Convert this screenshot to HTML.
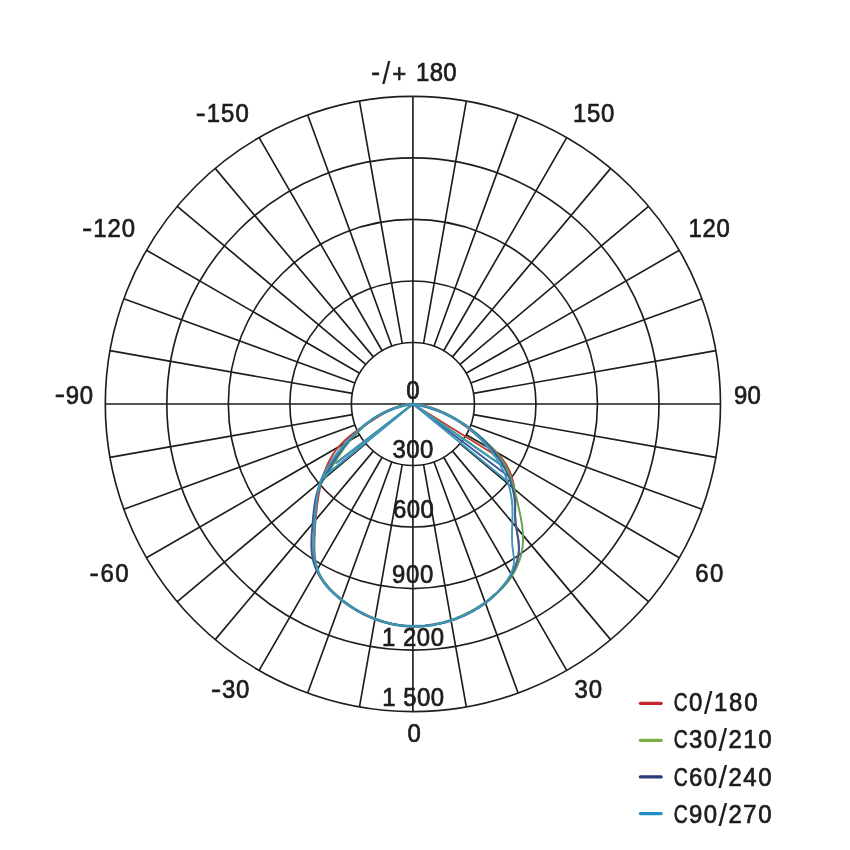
<!DOCTYPE html>
<html lang="en"><head><meta charset="utf-8"><title>Polar diagram</title>
<style>html,body{margin:0;padding:0;background:#fff}svg{display:block}text{font-family:"Liberation Sans",sans-serif;font-size:25.2px;fill:#1d1d1b;stroke:#1d1d1b;stroke-width:.7px}</style></head><body>
<svg width="850" height="850" viewBox="0 0 850 850">
<rect width="850" height="850" fill="#fff"/>
<g fill="none" stroke="#1d1d1b" stroke-width="1.65">
<circle cx="412.9" cy="404.0" r="61.52"/>
<circle cx="412.9" cy="404.0" r="123.04"/>
<circle cx="412.9" cy="404.0" r="184.56"/>
<circle cx="412.9" cy="404.0" r="246.08"/>
<circle cx="412.9" cy="404.0" r="307.60"/>
<path d="M412.90,404.00L412.90,96.40M423.58,343.41L466.31,101.07M433.94,346.19L518.11,114.95M443.66,350.72L566.70,137.61M452.44,356.87L610.62,168.36M460.03,364.46L648.54,206.28M466.18,373.24L679.29,250.20M470.71,382.96L701.95,298.79M473.49,393.32L715.83,350.59M412.90,404.00L720.50,404.00M473.49,414.68L715.83,457.41M470.71,425.04L701.95,509.21M466.18,434.76L679.29,557.80M460.03,443.54L648.54,601.72M452.44,451.13L610.62,639.64M443.66,457.28L566.70,670.39M433.94,461.81L518.11,693.05M423.58,464.59L466.31,706.93M412.90,404.00L412.90,711.60M402.22,464.59L359.49,706.93M391.86,461.81L307.69,693.05M382.14,457.28L259.10,670.39M373.36,451.13L215.18,639.64M365.77,443.54L177.26,601.72M359.62,434.76L146.51,557.80M355.09,425.04L123.85,509.21M352.31,414.68L109.97,457.41M412.90,404.00L105.30,404.00M352.31,393.32L109.97,350.59M355.09,382.96L123.85,298.79M359.62,373.24L146.51,250.20M365.77,364.46L177.26,206.28M373.36,356.87L215.18,168.36M382.14,350.72L259.10,137.61M391.86,346.19L307.69,114.95M402.22,343.41L359.49,101.07"/>
</g>
<g fill="none" stroke-width="1.9" stroke-linejoin="round" stroke-linecap="round">
<path d="M412.9,404.0 L410.5,404.3 L408.0,404.7 L405.6,405.2 L403.3,405.7 L401.0,406.3 L398.6,407.0 L396.4,407.7 L394.1,408.5 L391.9,409.3 L389.7,410.2 L387.5,411.1 L385.4,412.1 L383.3,413.1 L381.2,414.2 L379.2,415.3 L377.1,416.5 L375.1,417.7 L373.1,419.0 L371.2,420.3 L369.3,421.7 L367.3,423.1 L365.5,424.5 L363.6,426.0 L361.8,427.5 L360.0,429.0 L358.2,430.6 L356.4,432.2 L354.7,433.9 L353.0,435.5 L351.3,437.2 L349.6,439.0 L348.0,440.7 L346.3,442.5 L344.7,444.3 L343.2,446.2 L341.6,448.0 L340.1,449.9 L338.6,451.8 L337.1,453.7 L335.6,455.6 L334.2,457.5 L332.8,459.5 L331.4,461.5 L330.1,463.5 L328.8,465.5 L327.5,467.5 L326.4,469.6 L325.2,471.7 L324.2,473.8 L323.2,475.9 L322.2,478.1 L321.3,480.2 L320.5,482.4 L319.8,484.7 L319.2,486.9 L318.6,489.1 L318.1,491.4 L317.6,493.7 L317.2,496.0 L316.9,498.4 L316.6,500.7 L316.3,503.1 L316.0,505.4 L315.8,507.8 L315.6,510.2 L315.5,512.6 L315.3,515.0 L315.1,517.4 L315.0,519.9 L314.8,522.3 L314.7,524.7 L314.5,527.1 L314.3,529.6 L314.2,532.0 L314.0,534.4 L313.9,536.9 L313.8,539.3 L313.7,541.7 L313.7,544.1 L313.7,546.5 L313.7,548.9 L313.8,551.2 L314.0,553.6 L314.3,555.9 L314.6,558.2 L314.9,560.5 L315.4,562.8 L316.0,565.1 L316.6,567.3 L317.4,569.5 L318.2,571.7 L319.1,573.8 L320.1,575.9 L321.2,578.0 L322.4,580.0 L323.7,581.9 L325.1,583.9 L326.6,585.7 L328.2,587.5 L329.8,589.3 L331.6,591.0 L333.3,592.7 L335.1,594.4 L336.9,596.0 L338.8,597.5 L340.6,599.1 L342.5,600.6 L344.4,602.0 L346.4,603.5 L348.3,604.8 L350.3,606.2 L352.3,607.5 L354.3,608.8 L356.4,610.0 L358.4,611.2 L360.5,612.3 L362.6,613.4 L364.7,614.5 L366.9,615.5 L369.0,616.5 L371.2,617.4 L373.4,618.3 L375.6,619.1 L377.8,619.9 L380.0,620.7 L382.2,621.4 L384.5,622.1 L386.8,622.7 L389.0,623.3 L391.3,623.8 L393.6,624.3 L396.0,624.7 L398.3,625.1 L400.6,625.4 L402.9,625.7 L405.3,625.9 L407.7,626.1 L410.0,626.2 L412.4,626.3 L414.8,626.3 L417.1,626.3 L419.5,626.2 L421.9,626.1 L424.3,625.9 L426.7,625.6 L429.1,625.4 L431.5,625.0 L433.8,624.7 L436.2,624.2 L438.6,623.7 L441.0,623.2 L443.3,622.7 L445.6,622.0 L448.0,621.4 L450.3,620.7 L452.6,619.9 L454.9,619.1 L457.2,618.2 L459.4,617.4 L461.6,616.4 L463.9,615.4 L466.0,614.4 L468.2,613.3 L470.4,612.2 L472.5,611.1 L474.6,609.9 L476.6,608.6 L478.7,607.4 L480.7,606.0 L482.7,604.7 L484.6,603.3 L486.5,601.8 L488.4,600.3 L490.2,598.8 L492.0,597.2 L493.8,595.6 L495.5,594.0M495.1,456.3 L493.8,454.4 L492.4,452.4 L491.0,450.5 L489.5,448.7 L488.0,446.8 L486.5,445.0 L484.9,443.2 L483.3,441.5 L481.7,439.7 L480.0,438.0 L478.3,436.4 L476.5,434.7 L474.8,433.1 L473.0,431.6 L471.1,430.0 L469.2,428.5 L467.3,427.1 L465.4,425.6 L463.5,424.3 L461.5,422.9 L459.5,421.6 L457.4,420.3 L455.4,419.1 L453.3,417.9 L451.2,416.7 L449.1,415.6 L446.9,414.6 L444.8,413.5 L442.6,412.5 L440.4,411.6 L438.2,410.7 L435.9,409.9 L433.7,409.1 L431.4,408.3 L429.2,407.6 L426.9,406.9 L424.6,406.3 L422.2,405.8 L419.9,405.2 L417.6,404.8 L415.2,404.4 L412.9,404.0" stroke="#4a9bb5" stroke-width="2.9" stroke-linecap="butt"/>
<path d="M412.9,404.0 L410.3,404.2 L407.9,404.5 L405.4,404.9 L403.1,405.4 L400.8,405.9 L398.6,406.6 L396.4,407.3 L394.2,408.1 L392.1,409.0 L390.1,410.0 L388.0,411.0 L386.0,412.0 L384.0,413.1 L382.1,414.2 L380.1,415.4 L378.2,416.6 L376.2,417.9 L374.2,419.1 L372.3,420.4 L370.3,421.7 L368.3,423.0 L366.3,424.3 L364.3,425.7 L362.3,427.0 L360.3,428.4 L358.3,429.8 L356.3,431.2 L354.3,432.6 L352.4,434.1 L350.5,435.6 L348.6,437.1 L346.8,438.7 L345.0,440.3 L343.3,441.9 L341.6,443.6 L340.0,445.3 L338.5,447.0 L337.0,448.8 L335.6,450.7 L334.2,452.5 L332.9,454.4 L331.7,456.4 L330.6,458.4 L329.5,460.4 L328.5,462.4 L327.5,464.5 L326.6,466.6 L325.7,468.8 L324.9,470.9 L324.1,473.1 L323.4,475.3 L322.7,477.6 L322.0,479.8 L321.4,482.1 L320.9,484.4 L320.3,486.7 L319.8,489.0 L319.4,491.3 L318.9,493.6 L318.5,496.0 L318.1,498.3 L317.8,500.7 L317.4,503.0 L317.1,505.4 L316.8,507.7 L316.5,510.1 L316.3,512.4 L316.0,514.8 L315.8,517.1 L315.5,519.4 L315.3,521.8 L315.2,524.1 L315.0,526.5 L314.8,528.8 L314.7,531.2 L314.6,533.5 L314.5,535.8 L314.4,538.2 L314.4,540.5 L314.3,542.9 L314.3,545.3 L314.3,547.6 L314.4,550.0 L314.4,552.4 L314.5,554.7 L314.6,557.1 L314.8,559.4 L315.1,561.8 L315.5,564.1 L315.9,566.4 L316.5,568.6 L317.2,570.8 L318.0,572.9 L319.1,575.0 L320.2,577.0 L321.5,579.0 L322.9,580.9 L324.4,582.7 L325.9,584.5 L327.5,586.3 L329.1,588.1 L330.7,589.8 L332.4,591.5 L334.1,593.2 L335.8,594.8 L337.6,596.4 L339.4,597.9 L341.2,599.4 L343.0,600.9 L344.9,602.4 L346.8,603.8 L348.7,605.1 L350.6,606.4 L352.6,607.7 L354.6,609.0 L356.6,610.2 L358.6,611.4 L360.7,612.5 L362.8,613.6 L364.8,614.6 L367.0,615.6 L369.1,616.6 L371.2,617.5 L373.4,618.4 L375.6,619.2 L377.8,620.0 L380.0,620.7 L382.2,621.4 L384.4,622.1 L386.7,622.7 L389.0,623.3 L391.2,623.8 L393.5,624.2 L395.8,624.7 L398.1,625.0 L400.4,625.4 L402.7,625.6 L405.1,625.9 L407.4,626.0 L409.8,626.2 L412.1,626.3 L414.5,626.3 L416.8,626.3 L419.2,626.2 L421.5,626.1 L423.9,625.9 L426.2,625.7 L428.6,625.4 L430.9,625.1 L433.3,624.7 L435.6,624.3 L438.0,623.9 L440.3,623.4 L442.6,622.8 L444.9,622.2 L447.2,621.6 L449.5,620.9 L451.8,620.2 L454.1,619.4 L456.3,618.6 L458.5,617.7 L460.7,616.8 L462.9,615.8 L465.1,614.9 L467.2,613.8 L469.4,612.7 L471.5,611.6 L473.5,610.5 L475.6,609.3 L477.6,608.0 L479.6,606.8 L481.6,605.5 L483.5,604.1 L485.4,602.7 L487.3,601.3 L489.2,599.8 L491.0,598.3 L492.7,596.8 L494.5,595.2 L496.2,593.6 L497.8,591.9 L499.4,590.2 L501.0,588.5 L502.5,586.7 L504.0,584.9 L505.5,583.1 L506.9,581.3 L508.2,579.4 L509.5,577.4 L510.7,575.5 L511.8,573.5 L512.9,571.5 L513.9,569.4 L514.8,567.3 L515.7,565.2 L516.4,563.0 L517.1,560.8 L517.6,558.6 L518.1,556.4 L518.4,554.1 L518.7,551.8 L518.8,549.5 L518.8,547.1 L518.7,544.7 L518.5,542.3 L518.2,539.9 L517.8,537.4 L517.4,535.0 L517.0,532.5 L516.6,530.1 L516.2,527.7 L515.9,525.2 L515.6,522.8 L515.3,520.5 L515.2,518.1 L515.1,515.8 L515.1,513.5 L515.2,511.3 L515.3,509.0 L515.3,506.7 L515.4,504.4 L515.4,502.1 L515.3,499.7 L515.2,497.3 L515.1,495.0 L514.8,492.6 L514.6,490.2 L514.2,487.8 L513.8,485.5 L513.4,483.1 L512.8,480.8 L512.2,478.5 L511.5,476.3 L510.7,474.0 L509.9,471.9 L508.9,469.7 L507.9,467.6 L506.8,465.6 L505.6,463.6 L504.3,461.7 L503.0,459.8 L501.6,458.0 L500.1,456.2 L498.6,454.4 L497.0,452.7 L495.4,451.0 L493.7,449.4 L492.0,447.7 L490.3,446.1 L488.5,444.5 L486.7,443.0 L484.9,441.4 L483.1,439.9 L481.2,438.4 L479.4,436.8 L477.5,435.3 L475.7,433.8 L473.8,432.4 L471.9,430.9 L470.0,429.5 L468.1,428.0 L466.2,426.6 L464.3,425.2 L462.4,423.9 L460.4,422.5 L458.5,421.2 L456.5,420.0 L454.5,418.7 L452.5,417.5 L450.5,416.4 L448.5,415.2 L446.4,414.1 L444.4,413.1 L442.3,412.1 L440.2,411.1 L438.0,410.2 L435.9,409.4 L433.7,408.6 L431.5,407.8 L429.3,407.1 L427.0,406.5 L424.7,405.9 L422.4,405.4 L420.1,405.0 L417.7,404.6 L415.3,404.2 L412.9,404.0M412.9,404.0L336.4,462.8M412.9,404.0L503.0,459.8" stroke="#c0392f"/>
<path d="M412.9,404.0 L410.4,404.3 L408.0,404.6 L405.6,405.0 L403.2,405.5 L400.9,406.0 L398.6,406.7 L396.3,407.3 L394.1,408.1 L391.9,408.9 L389.7,409.7 L387.5,410.7 L385.4,411.7 L383.4,412.7 L381.3,413.8 L379.3,414.9 L377.3,416.1 L375.4,417.4 L373.5,418.7 L371.6,420.0 L369.7,421.4 L367.9,422.8 L366.1,424.3 L364.3,425.8 L362.6,427.4 L360.9,429.0 L359.2,430.6 L357.5,432.3 L355.9,434.0 L354.3,435.7 L352.7,437.4 L351.2,439.2 L349.7,441.0 L348.2,442.9 L346.8,444.7 L345.3,446.6 L343.9,448.5 L342.6,450.5 L341.2,452.4 L339.9,454.4 L338.6,456.3 L337.3,458.3 L336.0,460.3 L334.8,462.3 L333.5,464.3 L332.3,466.3 L331.0,468.3 L329.8,470.3 L328.5,472.3 L327.2,474.3 L326.0,476.3 L324.7,478.2 L323.4,480.2 L322.2,482.1 L321.1,484.1 L320.1,486.2 L319.2,488.2 L318.5,490.3 L317.8,492.5 L317.3,494.7 L316.8,496.9 L316.5,499.1 L316.2,501.4 L315.9,503.7 L315.7,506.0 L315.6,508.3 L315.4,510.7 L315.3,513.0 L315.2,515.4 L315.1,517.8 L315.0,520.2 L314.9,522.7 L314.8,525.1 L314.6,527.5 L314.4,530.0 L314.2,532.4 L314.1,534.8 L313.9,537.3 L313.8,539.7 L313.6,542.1 L313.6,544.5 L313.5,546.9 L313.6,549.3 L313.6,551.7 L313.8,554.0 L314.0,556.3 L314.3,558.6 L314.7,560.9 L315.2,563.1 L315.8,565.3 L316.5,567.4 L317.3,569.6 L318.3,571.6 L319.2,573.7 L320.3,575.7 L321.5,577.7 L322.7,579.6 L324.0,581.5 L325.4,583.4 L326.9,585.3 L328.4,587.1 L329.9,588.8 L331.5,590.6 L333.1,592.3 L334.8,593.9 L336.5,595.6 L338.3,597.1 L340.1,598.7 L341.9,600.2 L343.8,601.7 L345.6,603.1 L347.5,604.5 L349.5,605.9 L351.5,607.2 L353.4,608.5 L355.5,609.7 L357.5,610.9 L359.6,612.1 L361.7,613.2 L363.8,614.3 L365.9,615.3 L368.1,616.3 L370.2,617.2 L372.4,618.1 L374.6,619.0 L376.8,619.8 L379.1,620.6 L381.3,621.3 L383.6,622.0 L385.9,622.6 L388.2,623.2 L390.5,623.7 L392.8,624.2 L395.1,624.7 L397.4,625.1 L399.7,625.4 L402.1,625.7 L404.4,626.0 L406.7,626.2 L409.1,626.3 L411.4,626.4 L413.8,626.5 L416.1,626.5 L418.4,626.4 L420.8,626.3 L423.1,626.2 L425.5,626.0 L427.8,625.7 L430.1,625.4 L432.4,625.0 L434.7,624.6 L437.0,624.1 L439.3,623.6 L441.6,623.0 L443.8,622.4 L446.1,621.7 L448.3,621.0 L450.6,620.2 L452.8,619.4 L455.0,618.6 L457.2,617.7 L459.4,616.8 L461.5,615.8 L463.7,614.8 L465.8,613.8 L467.9,612.7 L470.0,611.6 L472.1,610.4 L474.2,609.3 L476.3,608.1 L478.3,606.8 L480.3,605.6 L482.3,604.3 L484.3,603.0 L486.3,601.7 L488.2,600.3 L490.1,598.9 L492.0,597.5 L493.8,596.0 L495.6,594.5 L497.4,592.9 L499.1,591.4 L500.8,589.7 L502.4,588.1 L504.0,586.4 L505.5,584.6 L507.0,582.8 L508.5,581.0 L509.9,579.1 L511.2,577.2 L512.4,575.2 L513.6,573.2 L514.8,571.1 L515.9,569.0 L516.9,566.8 L517.8,564.6 L518.7,562.4 L519.5,560.1 L520.2,557.9 L520.8,555.6 L521.4,553.3 L521.9,550.9 L522.3,548.6 L522.6,546.3 L522.8,544.0 L523.0,541.7 L523.0,539.3 L523.0,537.0 L522.9,534.7 L522.8,532.4 L522.6,530.1 L522.4,527.7 L522.1,525.4 L521.7,523.1 L521.3,520.8 L520.9,518.5 L520.5,516.1 L520.0,513.8 L519.5,511.5 L519.0,509.2 L518.5,506.8 L518.0,504.5 L517.5,502.2 L516.9,499.8 L516.4,497.5 L515.8,495.2 L515.3,492.9 L514.7,490.5 L514.0,488.2 L513.4,486.0 L512.7,483.7 L512.0,481.4 L511.3,479.2 L510.5,477.0 L509.6,474.8 L508.7,472.7 L507.8,470.5 L506.8,468.5 L505.7,466.4 L504.6,464.4 L503.4,462.4 L502.1,460.4 L500.8,458.5 L499.4,456.6 L498.0,454.8 L496.5,452.9 L495.0,451.2 L493.5,449.4 L491.9,447.6 L490.3,445.9 L488.6,444.3 L486.9,442.6 L485.2,441.0 L483.4,439.4 L481.6,437.8 L479.8,436.2 L478.0,434.7 L476.2,433.2 L474.3,431.7 L472.5,430.2 L470.6,428.7 L468.7,427.3 L466.8,425.9 L464.8,424.6 L462.9,423.3 L460.9,422.0 L458.9,420.7 L456.9,419.5 L454.8,418.3 L452.8,417.2 L450.7,416.0 L448.6,415.0 L446.5,413.9 L444.4,412.9 L442.3,412.0 L440.1,411.1 L438.0,410.2 L435.8,409.4 L433.6,408.6 L431.3,407.9 L429.1,407.2 L426.8,406.6 L424.6,406.0 L422.3,405.5 L419.9,405.1 L417.6,404.7 L415.3,404.3 L412.9,404.0M412.9,404.0L336.4,462.8M412.9,404.0L506.8,468.5" stroke="#5fa052"/>
<path d="M412.9,404.0 L410.4,404.3 L408.0,404.7 L405.6,405.1 L403.2,405.6 L400.9,406.2 L398.6,406.9 L396.3,407.6 L394.0,408.3 L391.8,409.2 L389.6,410.1 L387.4,411.0 L385.2,412.0 L383.1,413.1 L381.0,414.2 L378.9,415.3 L376.9,416.5 L374.9,417.8 L372.9,419.1 L370.9,420.5 L369.0,421.9 L367.1,423.3 L365.2,424.8 L363.3,426.3 L361.5,427.9 L359.8,429.5 L358.0,431.1 L356.3,432.8 L354.6,434.5 L352.9,436.2 L351.3,438.0 L349.7,439.8 L348.1,441.6 L346.6,443.5 L345.1,445.4 L343.6,447.2 L342.1,449.2 L340.7,451.1 L339.3,453.1 L338.0,455.0 L336.6,457.0 L335.3,459.0 L334.0,461.1 L332.8,463.1 L331.5,465.1 L330.3,467.2 L329.0,469.2 L327.8,471.3 L326.5,473.4 L325.3,475.4 L324.0,477.5 L322.8,479.6 L321.6,481.7 L320.5,483.8 L319.5,485.9 L318.6,488.1 L317.8,490.3 L317.1,492.5 L316.5,494.8 L315.9,497.0 L315.4,499.3 L315.0,501.6 L314.6,503.9 L314.3,506.3 L314.0,508.7 L313.7,511.0 L313.5,513.4 L313.2,515.8 L313.0,518.3 L312.8,520.7 L312.6,523.1 L312.4,525.6 L312.2,528.0 L312.0,530.5 L311.8,532.9 L311.6,535.4 L311.5,537.8 L311.4,540.3 L311.3,542.7 L311.3,545.1 L311.4,547.5 L311.5,549.9 L311.7,552.3 L312.0,554.6 L312.3,557.0 L312.8,559.3 L313.3,561.5 L313.9,563.8 L314.7,566.0 L315.6,568.1 L316.5,570.3 L317.6,572.4 L318.7,574.4 L320.0,576.5 L321.3,578.4 L322.7,580.4 L324.1,582.3 L325.6,584.2 L327.2,586.1 L328.8,587.9 L330.5,589.6 L332.2,591.4 L333.9,593.1 L335.7,594.7 L337.5,596.4 L339.4,598.0 L341.2,599.5 L343.1,601.0 L345.0,602.5 L347.0,603.9 L348.9,605.3 L350.9,606.6 L352.9,608.0 L355.0,609.2 L357.0,610.4 L359.1,611.6 L361.2,612.8 L363.3,613.9 L365.4,614.9 L367.6,615.9 L369.8,616.9 L372.0,617.8 L374.2,618.7 L376.4,619.5 L378.6,620.3 L380.9,621.0 L383.2,621.7 L385.4,622.4 L387.7,622.9 L390.0,623.5 L392.4,624.0 L394.7,624.4 L397.0,624.8 L399.4,625.2 L401.7,625.5 L404.1,625.7 L406.5,625.9 L408.8,626.1 L411.2,626.2 L413.6,626.2 L416.0,626.2 L418.4,626.2 L420.8,626.1 L423.2,625.9 L425.6,625.7 L428.0,625.4 L430.4,625.1 L432.8,624.8 L435.2,624.4 L437.6,623.9 L439.9,623.4 L442.3,622.9 L444.6,622.3 L447.0,621.6 L449.3,620.9 L451.6,620.2 L453.9,619.4 L456.2,618.6 L458.5,617.7 L460.7,616.8 L463.0,615.8 L465.2,614.8 L467.4,613.8 L469.5,612.7 L471.7,611.5 L473.8,610.3 L475.9,609.1 L478.0,607.9 L480.0,606.5 L482.0,605.2 L484.0,603.8 L485.9,602.4 L487.8,600.9 L489.7,599.4 L491.5,597.9 L493.3,596.3 L495.1,594.6 L496.8,593.0 L498.5,591.3 L500.1,589.5 L501.7,587.8 L503.2,585.9 L504.7,584.1 L506.2,582.2 L507.6,580.3 L508.9,578.3 L510.2,576.3 L511.4,574.3 L512.5,572.2 L513.6,570.2 L514.6,568.0 L515.5,565.9 L516.3,563.7 L517.0,561.5 L517.6,559.3 L518.1,557.0 L518.5,554.7 L518.8,552.4 L519.0,550.0 L519.0,547.7 L518.9,545.3 L518.7,542.9 L518.5,540.4 L518.1,538.0 L517.7,535.5 L517.3,533.1 L516.9,530.6 L516.5,528.1 L516.1,525.6 L515.7,523.1 L515.5,520.7 L515.3,518.2 L515.1,515.7 L515.1,513.3 L515.1,510.9 L515.0,508.4 L515.0,506.0 L514.8,503.6 L514.7,501.3 L514.4,498.9 L514.1,496.5 L513.7,494.2 L513.3,491.9 L512.7,489.6 L512.2,487.3 L511.5,485.1 L510.8,482.8 L510.1,480.6 L509.3,478.4 L508.4,476.2 L507.5,474.0 L506.5,471.9 L505.5,469.8 L504.4,467.7 L503.3,465.6 L502.1,463.5 L500.9,461.5 L499.6,459.5 L498.3,457.5 L496.9,455.6 L495.5,453.6 L494.0,451.7 L492.5,449.9 L491.0,448.0 L489.4,446.2 L487.8,444.4 L486.1,442.7 L484.4,440.9 L482.7,439.2 L480.9,437.6 L479.1,435.9 L477.3,434.3 L475.4,432.8 L473.5,431.2 L471.6,429.7 L469.7,428.3 L467.7,426.8 L465.7,425.4 L463.7,424.1 L461.6,422.7 L459.6,421.5 L457.5,420.2 L455.4,419.0 L453.2,417.8 L451.1,416.7 L448.9,415.6 L446.7,414.6 L444.5,413.5 L442.3,412.6 L440.1,411.6 L437.9,410.8 L435.6,409.9 L433.4,409.1 L431.1,408.4 L428.9,407.7 L426.6,407.0 L424.3,406.4 L422.0,405.8 L419.7,405.3 L417.5,404.8 L415.2,404.4 L412.9,404.0M412.9,404.0L324,476.8M412.9,404.0L508.4,476.2" stroke="#3a5a9a"/>
<path d="M412.9,404.0 L410.5,404.3 L408.0,404.7 L405.6,405.2 L403.3,405.7 L401.0,406.3 L398.6,407.0 L396.4,407.7 L394.1,408.5 L391.9,409.3 L389.7,410.2 L387.5,411.1 L385.4,412.1 L383.3,413.1 L381.2,414.2 L379.2,415.3 L377.1,416.5 L375.1,417.7 L373.1,419.0 L371.2,420.3 L369.3,421.7 L367.3,423.1 L365.5,424.5 L363.6,426.0 L361.8,427.5 L360.0,429.0 L358.2,430.6 L356.4,432.2 L354.7,433.9 L353.0,435.5 L351.3,437.2 L349.6,439.0 L348.0,440.7 L346.3,442.5 L344.7,444.3 L343.2,446.2 L341.6,448.0 L340.1,449.9 L338.6,451.8 L337.1,453.7 L335.6,455.6 L334.2,457.5 L332.8,459.5 L331.4,461.5 L330.1,463.5 L328.8,465.5 L327.5,467.5 L326.4,469.6 L325.2,471.7 L324.2,473.8 L323.2,475.9 L322.2,478.1 L321.3,480.2 L320.5,482.4 L319.8,484.7 L319.2,486.9 L318.6,489.1 L318.1,491.4 L317.6,493.7 L317.2,496.0 L316.9,498.4 L316.6,500.7 L316.3,503.1 L316.0,505.4 L315.8,507.8 L315.6,510.2 L315.5,512.6 L315.3,515.0 L315.1,517.4 L315.0,519.9 L314.8,522.3 L314.7,524.7 L314.5,527.1 L314.3,529.6 L314.2,532.0 L314.0,534.4 L313.9,536.9 L313.8,539.3 L313.7,541.7 L313.7,544.1 L313.7,546.5 L313.7,548.9 L313.8,551.2 L314.0,553.6 L314.3,555.9 L314.6,558.2 L314.9,560.5 L315.4,562.8 L316.0,565.1 L316.6,567.3 L317.4,569.5 L318.2,571.7 L319.1,573.8 L320.1,575.9 L321.2,578.0 L322.4,580.0 L323.7,581.9 L325.1,583.9 L326.6,585.7 L328.2,587.5 L329.8,589.3 L331.6,591.0 L333.3,592.7 L335.1,594.4 L336.9,596.0 L338.8,597.5 L340.6,599.1 L342.5,600.6 L344.4,602.0 L346.4,603.5 L348.3,604.8 L350.3,606.2 L352.3,607.5 L354.3,608.8 L356.4,610.0 L358.4,611.2 L360.5,612.3 L362.6,613.4 L364.7,614.5 L366.9,615.5 L369.0,616.5 L371.2,617.4 L373.4,618.3 L375.6,619.1 L377.8,619.9 L380.0,620.7 L382.2,621.4 L384.5,622.1 L386.8,622.7 L389.0,623.3 L391.3,623.8 L393.6,624.3 L396.0,624.7 L398.3,625.1 L400.6,625.4 L402.9,625.7 L405.3,625.9 L407.7,626.1 L410.0,626.2 L412.4,626.3 L414.8,626.3 L417.1,626.3 L419.5,626.2 L421.9,626.1 L424.3,625.9 L426.7,625.6 L429.1,625.4 L431.5,625.0 L433.8,624.7 L436.2,624.2 L438.6,623.7 L441.0,623.2 L443.3,622.7 L445.6,622.0 L448.0,621.4 L450.3,620.7 L452.6,619.9 L454.9,619.1 L457.2,618.2 L459.4,617.4 L461.6,616.4 L463.9,615.4 L466.0,614.4 L468.2,613.3 L470.4,612.2 L472.5,611.1 L474.6,609.9 L476.6,608.6 L478.7,607.4 L480.7,606.0 L482.7,604.7 L484.6,603.3 L486.5,601.8 L488.4,600.3 L490.2,598.8 L492.0,597.2 L493.8,595.6 L495.5,594.0 L497.2,592.3 L498.8,590.6 L500.4,588.9 L501.9,587.1 L503.4,585.2 L504.9,583.4 L506.3,581.5 L507.6,579.6 L508.8,577.6 L509.9,575.6 L511.0,573.5 L511.9,571.4 L512.6,569.3 L513.2,567.1 L513.7,564.9 L513.9,562.6 L514.0,560.3 L513.9,558.0 L513.6,555.6 L513.3,553.2 L513.0,550.8 L512.7,548.3 L512.4,545.9 L512.2,543.4 L512.1,541.0 L512.0,538.5 L512.0,536.1 L512.0,533.6 L512.0,531.2 L512.1,528.8 L512.2,526.3 L512.3,523.9 L512.3,521.4 L512.4,519.0 L512.5,516.6 L512.5,514.2 L512.5,511.8 L512.4,509.4 L512.4,507.0 L512.2,504.6 L512.0,502.3 L511.8,499.9 L511.4,497.6 L511.0,495.2 L510.6,492.9 L510.1,490.6 L509.6,488.3 L509.0,486.1 L508.3,483.8 L507.6,481.6 L506.8,479.4 L506.0,477.2 L505.1,475.0 L504.2,472.8 L503.2,470.7 L502.2,468.6 L501.1,466.5 L500.0,464.4 L498.9,462.3 L497.7,460.3 L496.4,458.3 L495.1,456.3 L493.8,454.4 L492.4,452.4 L491.0,450.5 L489.5,448.7 L488.0,446.8 L486.5,445.0 L484.9,443.2 L483.3,441.5 L481.7,439.7 L480.0,438.0 L478.3,436.4 L476.5,434.7 L474.8,433.1 L473.0,431.6 L471.1,430.0 L469.2,428.5 L467.3,427.1 L465.4,425.6 L463.5,424.3 L461.5,422.9 L459.5,421.6 L457.4,420.3 L455.4,419.1 L453.3,417.9 L451.2,416.7 L449.1,415.6 L446.9,414.6 L444.8,413.5 L442.6,412.5 L440.4,411.6 L438.2,410.7 L435.9,409.9 L433.7,409.1 L431.4,408.3 L429.2,407.6 L426.9,406.9 L424.6,406.3 L422.2,405.8 L419.9,405.2 L417.6,404.8 L415.2,404.4 L412.9,404.0M412.9,404.0L324,476.8M412.9,404.0L336.4,462.8M412.9,404.0L500.0,464.4M412.9,404.0L507.6,481.6" stroke="#3c97b8"/>
</g>
<text transform="translate(371.25 81.50) scale(0.95 1)" letter-spacing="2.19"><tspan textLength="11.6" lengthAdjust="spacingAndGlyphs" dy="-0.6">-</tspan><tspan font-size="31.5" stroke-width="0.1" textLength="10.6" lengthAdjust="spacingAndGlyphs" dy="3.3">/</tspan><tspan dy="-2.7">+</tspan> <tspan x="47.11" y="-0.75" letter-spacing="0.38">180</tspan></text>
<text transform="translate(195.75 122.25) scale(0.95 1)" letter-spacing="1.08"><tspan textLength="11.6" lengthAdjust="spacingAndGlyphs" dy="-0.6">-</tspan><tspan dy="0.6">150</tspan></text>
<text transform="translate(573.00 122.25) scale(0.95 1)" letter-spacing="0.72">150</text>
<text transform="translate(82.25 237.25) scale(0.95 1)" letter-spacing="0.92"><tspan textLength="11.6" lengthAdjust="spacingAndGlyphs" dy="-0.6">-</tspan><tspan dy="0.6">120</tspan></text>
<text transform="translate(688.50 237.25) scale(0.95 1)" letter-spacing="0.69">120</text>
<text transform="translate(54.75 403.75) scale(0.95 1)" letter-spacing="0.64"><tspan textLength="11.6" lengthAdjust="spacingAndGlyphs" dy="-0.6">-</tspan><tspan dy="0.6">90</tspan></text>
<text transform="translate(734.00 403.75) scale(0.95 1)" letter-spacing="0.33">90</text>
<text transform="translate(89.50 582.25) scale(0.95 1)" letter-spacing="1.56"><tspan textLength="11.6" lengthAdjust="spacingAndGlyphs" dy="-0.6">-</tspan><tspan dy="0.6">60</tspan></text>
<text transform="translate(695.25 582.25) scale(0.95 1)" letter-spacing="1.43">60</text>
<text transform="translate(211.00 698.25) scale(0.95 1)" letter-spacing="0.80"><tspan textLength="11.6" lengthAdjust="spacingAndGlyphs" dy="-0.6">-</tspan><tspan dy="0.6">30</tspan></text>
<text transform="translate(574.50 698.25) scale(0.95 1)" letter-spacing="1.06">30</text>
<text transform="translate(407.40 742.00) scale(0.95 1)" letter-spacing="0.80">0</text>
<text transform="translate(382.25 705.75) scale(0.95 1)" letter-spacing="0.52">1 500</text>
<text transform="translate(382.00 645.75) scale(0.95 1)" letter-spacing="0.56">1 200</text>
<text transform="translate(392.00 582.50) scale(0.95 1)" letter-spacing="0.75">900</text>
<text transform="translate(393.00 518.00) scale(0.95 1)" letter-spacing="0.46">600</text>
<text transform="translate(392.50 457.75) scale(0.95 1)" letter-spacing="0.51">300</text>
<text transform="translate(406.15 398.50) scale(0.95 1)" letter-spacing="0.80">0</text>
<text transform="translate(673.75 711.10) scale(0.95 1)" letter-spacing="1.83"><tspan textLength="16.0" lengthAdjust="spacingAndGlyphs">C</tspan>0<tspan font-size="31.5" stroke-width="0.1" textLength="10.6" lengthAdjust="spacingAndGlyphs" dy="2.7">/</tspan><tspan dy="-2.7">180</tspan></text>
<text transform="translate(673.75 748.30) scale(0.95 1)" letter-spacing="1.55"><tspan textLength="16.0" lengthAdjust="spacingAndGlyphs">C</tspan>30<tspan font-size="31.5" stroke-width="0.1" textLength="10.6" lengthAdjust="spacingAndGlyphs" dy="2.7">/</tspan><tspan dy="-2.7">210</tspan></text>
<text transform="translate(673.75 785.50) scale(0.95 1)" letter-spacing="1.55"><tspan textLength="16.0" lengthAdjust="spacingAndGlyphs">C</tspan>60<tspan font-size="31.5" stroke-width="0.1" textLength="10.6" lengthAdjust="spacingAndGlyphs" dy="2.7">/</tspan><tspan dy="-2.7">240</tspan></text>
<text transform="translate(673.75 822.80) scale(0.95 1)" letter-spacing="1.55"><tspan textLength="16.0" lengthAdjust="spacingAndGlyphs">C</tspan>90<tspan font-size="31.5" stroke-width="0.1" textLength="10.6" lengthAdjust="spacingAndGlyphs" dy="2.7">/</tspan><tspan dy="-2.7">270</tspan></text>
<line x1="640.4" y1="703.3" x2="661.2" y2="703.3" stroke="#c1272d" stroke-width="3.2" stroke-linecap="round"/>
<line x1="640.4" y1="740.3" x2="661.2" y2="740.3" stroke="#76b043" stroke-width="3.2" stroke-linecap="round"/>
<line x1="640.4" y1="776.9" x2="661.2" y2="776.9" stroke="#2e3a75" stroke-width="3.2" stroke-linecap="round"/>
<line x1="640.4" y1="813.6" x2="661.2" y2="813.6" stroke="#1e8fc9" stroke-width="3.2" stroke-linecap="round"/>
</svg></body></html>
